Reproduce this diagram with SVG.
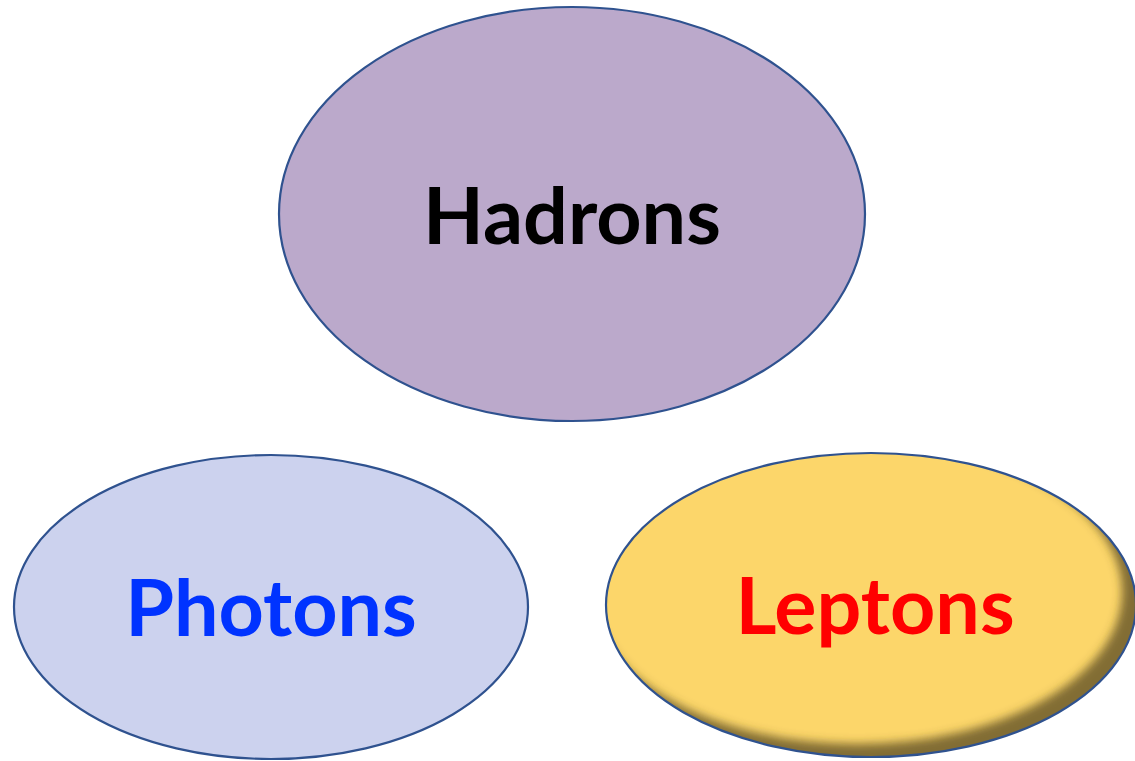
<svg xmlns="http://www.w3.org/2000/svg" width="1135" height="761" viewBox="0 0 1135 761">
<style>
.node{stroke:#2F528F;stroke-width:2.2}
.lbl{font-family:Lato,"Open Sans","Liberation Sans",sans-serif;font-weight:bold;font-size:79px;text-anchor:middle}
</style>
<defs>
<clipPath id="clipL"><ellipse cx="871" cy="605" rx="265" ry="152"/></clipPath>
<filter id="blur" x="-10%" y="-10%" width="120%" height="120%"><feGaussianBlur stdDeviation="5"/></filter>
</defs>
<rect width="1135" height="761" fill="#ffffff"/>
<g id="hadrons">
<ellipse class="node" cx="572" cy="214" rx="293" ry="207" fill="#BBA9CB"/>
<text class="lbl" x="572" y="244" fill="#000000">Hadrons</text>
</g>
<g id="photons">
<ellipse class="node" cx="271" cy="607" rx="257" ry="152" fill="#CCD2EE"/>
<text class="lbl" x="271" y="636" fill="#0033FF">Photons</text>
</g>
<g id="leptons">
<ellipse cx="871" cy="605" rx="265" ry="152" fill="#FCD66A"/>
<g clip-path="url(#clipL)">
<path fill="#5a4a20" fill-opacity="0.75" fill-rule="evenodd" filter="url(#blur)" d="M560,420 H1200 V800 H560 Z M599,600 a265,152 0 1,0 530,0 a265,152 0 1,0 -530,0 Z" transform="translate(-7,-8)"/>
</g>
<ellipse class="node" cx="871" cy="605" rx="265" ry="152" fill="none"/>
<text class="lbl" x="875" y="634" fill="#FF0000">Leptons</text>
</g>
<g id="connectors"></g>
</svg>
